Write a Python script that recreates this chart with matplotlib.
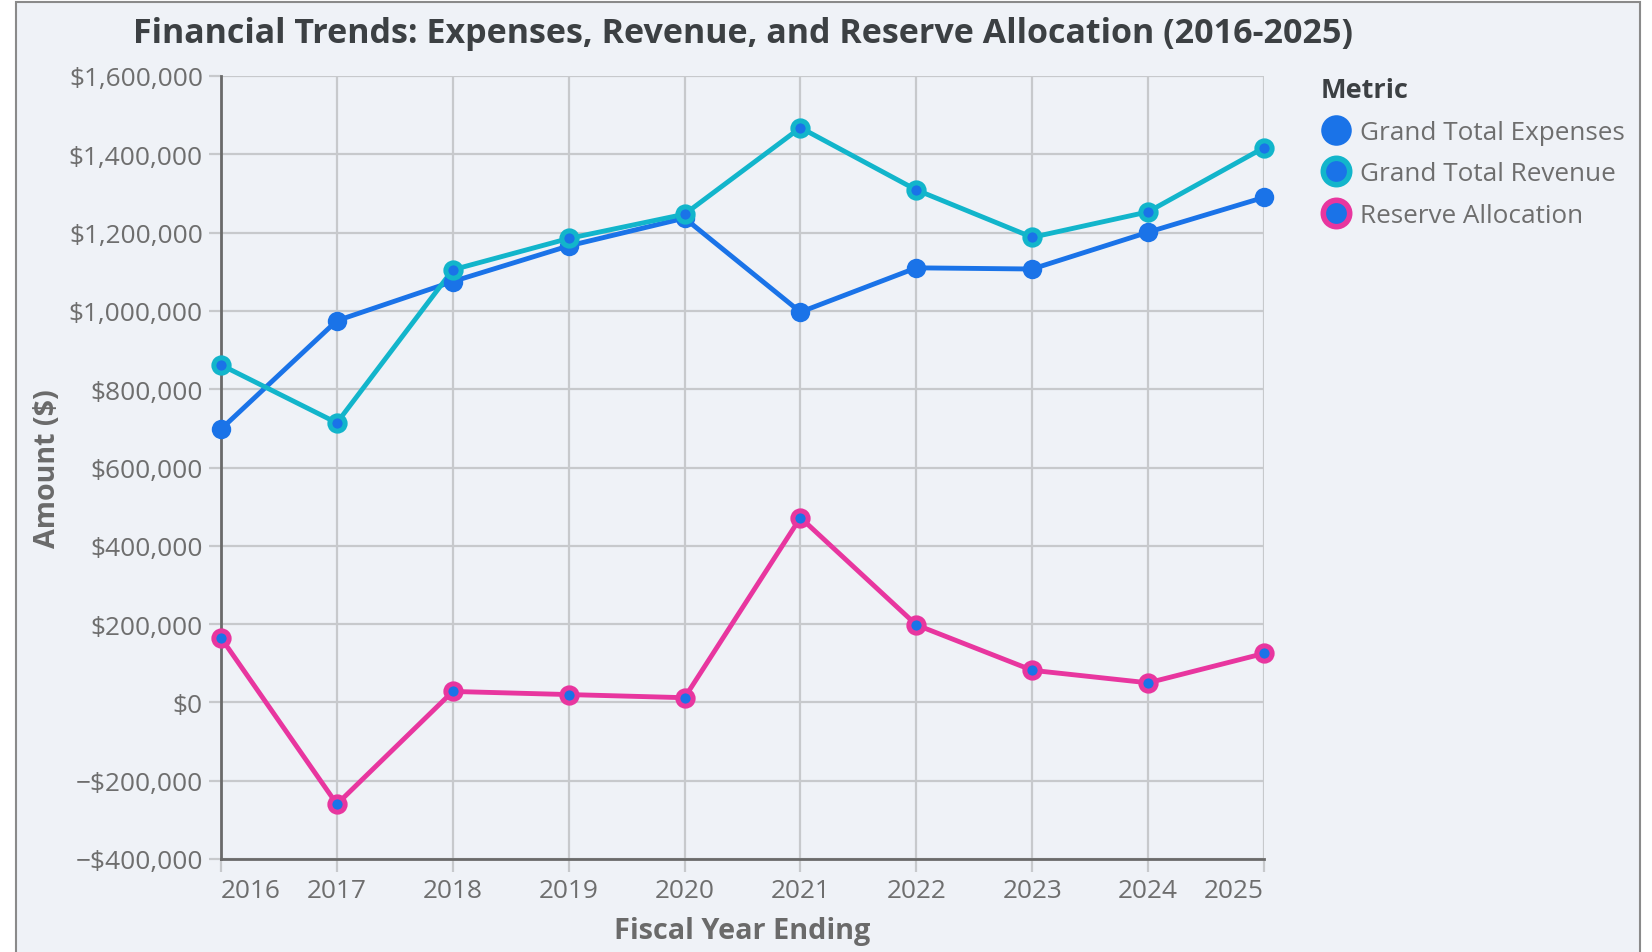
import matplotlib
matplotlib.use('Agg')
import matplotlib.pyplot as plt
from matplotlib.lines import Line2D
from matplotlib.patches import Rectangle
from matplotlib.ticker import FuncFormatter, MultipleLocator

plt.rcParams['font.family'] = ['Open Sans', 'DejaVu Sans']

# data
years = [2016, 2017, 2018, 2019, 2020, 2021, 2022, 2023, 2024, 2025]
expenses = [698000, 975000, 1075000, 1166000, 1237000, 997000, 1110000, 1107000, 1201000, 1290000]
revenue = [862000, 714000, 1105000, 1185000, 1247000, 1468000, 1309000, 1188000, 1253000, 1417000]
reserve = [165000, -260000, 28000, 20000, 12000, 472000, 198000, 82000, 50000, 125000]
metric_names = ['Grand Total Expenses', 'Grand Total Revenue', 'Reserve Allocation']

blue = '#1a73e8'
cyan = '#12b5cb'
pink = '#e8369f'
bg = '#eff2f7'
grid_c = '#c7c9cc'
tick_c = '#6e6e6e'

W, H = 1652, 953
fig = plt.figure(figsize=(W / 100, H / 100), dpi=100)
fig.patch.set_facecolor('white')
# panel background with grey border
fig.patches.append(Rectangle((16 / W, -0.01), (1640 - 16) / W, (H - 3) / H + 0.01,
                             transform=fig.transFigure, facecolor=bg,
                             edgecolor='#8a8a8a', linewidth=1.5, zorder=-5))

ax = fig.add_axes([221 / W, 1 - 860 / H, (1264 - 221) / W, (860 - 77) / H])
ax.set_facecolor(bg)

series = [(expenses, blue), (revenue, cyan), (reserve, pink)]
for vals, c in series:
    ax.plot(years, vals, color=c, lw=3.5, zorder=3, clip_on=False)
for vals, c in series:
    if c == blue:
        ax.plot(years, vals, ls='', marker='o', ms=14, mfc=blue, mec=blue,
                mew=0, zorder=4, clip_on=False)
    else:
        ax.plot(years, vals, ls='', marker='o', ms=11, mfc=blue, mec=c,
                mew=3.6, zorder=4, clip_on=False)

ax.set_xlim(2016, 2025)
ax.set_ylim(-400000, 1600000)
ax.yaxis.set_major_locator(MultipleLocator(200000))
ax.set_xticks(years)
ax.set_xticklabels([str(y) for y in years])


def money(v, pos):
    if v < 0:
        return '\u2212${:,.0f}'.format(-v)
    return '${:,.0f}'.format(v)


ax.yaxis.set_major_formatter(FuncFormatter(money))
ax.grid(True, color=grid_c, lw=1.6, zorder=1)
ax.set_axisbelow(True)
for s in ['top', 'right']:
    ax.spines[s].set_visible(False)
for s in ['left', 'bottom']:
    ax.spines[s].set_color('#6a6a6a')
    ax.spines[s].set_linewidth(2)
ax.tick_params(axis='both', colors=grid_c, width=1.6, length=9, labelsize=18.9,
               labelcolor=tick_c, pad=4)
ax.tick_params(axis='x', pad=5)
labels = ax.get_xticklabels()
labels[0].set_horizontalalignment('left')
labels[-1].set_horizontalalignment('right')

ax.set_xlabel('Fiscal Year Ending', fontsize=20.8, fontweight='bold', color='#6a6a6a', labelpad=9)
ax.set_ylabel('Amount ($)', fontsize=20.6, fontweight='bold', color='#6a6a6a', labelpad=5)

fig.text(743 / W, 1 - 34 / H, 'Financial Trends: Expenses, Revenue, and Reserve Allocation (2016-2025)',
         ha='center', va='center', fontsize=24.5, fontweight='bold', color='#3c4043')

handles = [
    Line2D([], [], ls='', marker='o', ms=22, mfc=blue, mec=blue, mew=0),
    Line2D([], [], ls='', marker='o', ms=19, mfc=blue, mec=cyan, mew=4),
    Line2D([], [], ls='', marker='o', ms=19, mfc=blue, mec=pink, mew=4),
]
leg = fig.legend(handles, metric_names, title='Metric', loc='upper left',
                 bbox_to_anchor=(1297 / W, 1 - 55 / H), frameon=False,
                 fontsize=18.8, labelcolor=tick_c, handletextpad=0.3,
                 labelspacing=0.63, handlelength=1.2,
                 title_fontproperties={'weight': 'bold', 'size': 19.5})
leg.get_title().set_color('#3c4043')
leg._legend_box.align = 'left'

fig.savefig('out.png', dpi=100, facecolor='white')
